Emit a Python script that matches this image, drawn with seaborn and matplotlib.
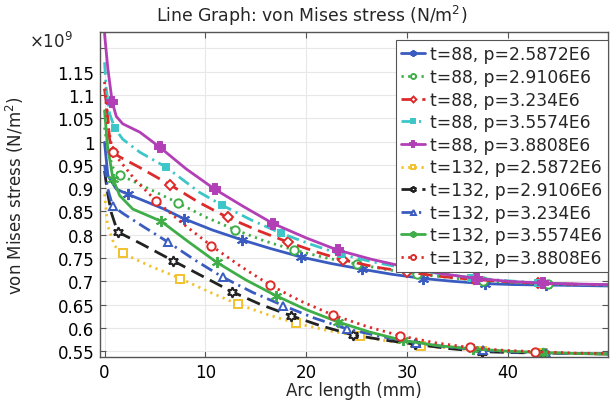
import numpy as np
import matplotlib
matplotlib.use("Agg")
import matplotlib.pyplot as plt
import seaborn as sns

# ---------------------------------------------------------------------------
# DATA  (arc length in mm, stress in 1e9 N/m^2)
# ---------------------------------------------------------------------------
labels = [
    "t=88, p=2.5872E6", "t=88, p=2.9106E6", "t=88, p=3.234E6",
    "t=88, p=3.5574E6", "t=88, p=3.8808E6",
    "t=132, p=2.5872E6", "t=132, p=2.9106E6", "t=132, p=3.234E6",
    "t=132, p=3.5574E6", "t=132, p=3.8808E6",
]

x_88_25872 = [0, 0.33, 1.16, 2.3, 4, 5.9, 7.9, 10.7, 13.6, 16.5, 19.5, 22.5, 25.5, 28.5, 31.6, 34.5, 37.7, 40.5, 43.8, 47, 50]
y_88_25872 = [0.998, 0.927, 0.898, 0.887, 0.872, 0.855, 0.834, 0.810, 0.789, 0.770, 0.752, 0.738, 0.726, 0.715, 0.706, 0.700, 0.695, 0.693, 0.692, 0.691, 0.690]

x_88_29106 = [0, 0.3, 0.8, 1.55, 3.5, 5.5, 7.3, 10, 12.9, 15.8, 18.8, 22, 25, 28, 31, 34.5, 37.5, 41, 44, 47, 50]
y_88_29106 = [1.03, 0.985, 0.945, 0.928, 0.908, 0.887, 0.868, 0.838, 0.811, 0.787, 0.767, 0.750, 0.737, 0.725, 0.716, 0.707, 0.701, 0.697, 0.694, 0.693, 0.692]

x_88_3234 = [0, 0.3, 0.5, 0.83, 1.5, 3.5, 6.5, 9.3, 12.2, 15.2, 18.2, 21, 23.6, 27, 30, 33.5, 36.6, 40, 43, 46.5, 50]
y_88_3234 = [1.113, 1.06, 1.005, 0.977, 0.967, 0.944, 0.907, 0.870, 0.837, 0.809, 0.784, 0.763, 0.746, 0.730, 0.720, 0.710, 0.704, 0.699, 0.696, 0.694, 0.692]

x_88_35574 = [0, 0.17, 0.5, 1.0, 1.8, 3.5, 6.1, 9.4, 11.6, 14.5, 17.5, 20.5, 23.4, 26.5, 29.6, 33, 36.3, 40, 43, 46.5, 50]
y_88_35574 = [1.17, 1.113, 1.06, 1.029, 1.005, 0.977, 0.945, 0.891, 0.864, 0.832, 0.803, 0.779, 0.758, 0.742, 0.729, 0.717, 0.708, 0.701, 0.697, 0.694, 0.692]

x_88_38808 = [0, 0.33, 0.76, 1.16, 1.8, 3.5, 5.46, 8.1, 10.9, 13.8, 16.7, 20, 23.1, 26.5, 30, 33.5, 36.9, 40, 43.5, 47, 50]
y_88_38808 = [1.231, 1.156, 1.085, 1.054, 1.038, 1.020, 0.988, 0.941, 0.898, 0.860, 0.824, 0.793, 0.767, 0.747, 0.730, 0.716, 0.706, 0.700, 0.696, 0.694, 0.693]

x_132_25872 = [0, 0.3, 1.0, 1.8, 4.5, 7.5, 10.3, 13.2, 16.1, 19.0, 22.2, 25.3, 28.3, 31.4, 34.5, 37.4, 40.5, 43.5, 47, 50]
y_132_25872 = [0.887, 0.82, 0.776, 0.760, 0.733, 0.706, 0.678, 0.651, 0.629, 0.610, 0.594, 0.582, 0.571, 0.562, 0.556, 0.551, 0.548, 0.546, 0.545, 0.544]

x_132_29106 = [0, 0.3, 0.66, 1.3, 3.5, 6.8, 9.7, 12.6, 15.5, 18.5, 21.5, 24.6, 27.7, 30.8, 34, 37.4, 40.5, 43.5, 47, 50]
y_132_29106 = [0.937, 0.89, 0.848, 0.806, 0.782, 0.744, 0.711, 0.678, 0.650, 0.626, 0.604, 0.585, 0.574, 0.565, 0.556, 0.549, 0.547, 0.546, 0.545, 0.544]

x_132_3234 = [0, 0.3, 0.8, 1.8, 3.8, 6.3, 9.0, 11.7, 14.7, 17.7, 20.8, 24, 27.3, 30.9, 34, 37.5, 40.5, 43.8, 47, 50]
y_132_3234 = [0.95, 0.90, 0.862, 0.846, 0.818, 0.784, 0.745, 0.709, 0.676, 0.648, 0.621, 0.598, 0.582, 0.568, 0.559, 0.552, 0.548, 0.546, 0.545, 0.544]

x_132_35574 = [0, 0.3, 0.83, 1.5, 2.8, 5.6, 8.3, 11.1, 14, 17.0, 20, 23.1, 26.3, 29.6, 33, 36.5, 40, 43.5, 47, 50]
y_132_35574 = [1.066, 0.99, 0.920, 0.884, 0.855, 0.829, 0.785, 0.741, 0.703, 0.669, 0.639, 0.613, 0.591, 0.573, 0.562, 0.555, 0.550, 0.547, 0.545, 0.544]

x_132_38808 = [0, 0.3, 0.8, 1.5, 3.1, 5.1, 7.8, 10.6, 13.5, 16.4, 19.5, 22.6, 26, 29.3, 32.8, 36.2, 39.5, 42.7, 46.5, 50]
y_132_38808 = [1.128, 1.04, 0.978, 0.959, 0.916, 0.873, 0.823, 0.776, 0.732, 0.692, 0.657, 0.628, 0.603, 0.583, 0.568, 0.558, 0.552, 0.549, 0.546, 0.545]

y_ticks = [0.55, 0.6, 0.65, 0.7, 0.75, 0.8, 0.85, 0.9, 0.95, 1.0, 1.05, 1.1, 1.15, 1.2]
x_ticks = [0, 10, 20, 30, 40]

xs = [x_88_25872, x_88_29106, x_88_3234, x_88_35574, x_88_38808,
      x_132_25872, x_132_29106, x_132_3234, x_132_35574, x_132_38808]
ys = [y_88_25872, y_88_29106, y_88_3234, y_88_35574, y_88_38808,
      y_132_25872, y_132_29106, y_132_3234, y_132_35574, y_132_38808]

# ---------------------------------------------------------------------------
# STYLE per series
# ---------------------------------------------------------------------------
BLUE, GREEN, RED, CYAN, PURPLE, YELLOW, BLACK = (
    "#3a5cc0", "#3fae49", "#dd2a2a", "#3cc6c8", "#b23fb5", "#f2c12e", "#222222")
colors = [BLUE, GREEN, RED, CYAN, PURPLE, YELLOW, BLACK, BLUE, GREEN, RED]
dash_solid = "-"
dash_dot = (0, (0.8, 1.6))
dash_long = (0, (5, 2.5))
dash_dd = (0, (4.5, 1.8, 0.8, 1.8))
styles = [dash_solid, dash_dot, dash_long, dash_dd, dash_solid,
          dash_dot, dash_long, dash_dd, dash_solid, dash_dot]
markers = [(6, 2, 0), "o", "D", "s", "P", "s", (6, 1, 0), "^", (6, 2, 0), "o"]
msizes = [8, 6, 5, 5, 7, 6, 7.5, 6, 8, 6]
filled = [True, False, False, True, True, False, False, False, True, False]
mark_idx = [[3, 6, 8, 10, 12, 14, 16, 18]] * 4 + [
    [2, 6, 8, 10, 12, 14, 16, 18],
    [3, 5, 7, 9, 11, 13, 15, 17],
    [3, 5, 7, 9, 11, 13, 15, 17],
    [2, 5, 7, 9, 11, 13, 15, 17],
    [2, 5, 7, 9, 11, 13, 15, 17],
    [2, 5, 7, 9, 11, 13, 15, 17],
]

sns.set_style("whitegrid")
plt.rcParams["font.family"] = ["DejaVu Sans"]

fig = plt.figure(figsize=(6.12, 4.02), dpi=100)
ax = fig.add_axes([0.1634, 0.1095, 0.8301, 0.8084])

for i in range(len(labels)):
    sns.lineplot(
        x=xs[i], y=ys[i], ax=ax, color=colors[i], linestyle=styles[i],
        linewidth=2, marker=markers[i], markersize=msizes[i],
        markerfacecolor=colors[i] if filled[i] else "white",
        markeredgecolor=colors[i], markeredgewidth=1.4,
        markevery=mark_idx[i], label=labels[i], sort=False,
    )

ax.set_xlim(-0.45, 49.9)
ax.set_ylim(0.5376, 1.235)
ax.set_xticks(x_ticks)
ax.set_yticks(y_ticks)
ax.set_yticklabels([("%g" % v) if v < 1.19 else "" for v in y_ticks])
ax.tick_params(direction="in", length=4, width=0.8, colors="#555555",
               labelcolor="black", labelsize=12, top=True, right=True,
               left=True, bottom=True, pad=4)
ax.grid(True, color="#e8e8e8", linewidth=0.8)
for s in ax.spines.values():
    s.set_color("#555555")
    s.set_linewidth(1.0)

fig.suptitle("Line Graph: von Mises stress (N/m$^2$)", fontsize=12.4,
             x=0.51, y=0.99, va="top")
ax.set_xlabel("Arc length (mm)", fontsize=12, labelpad=0)
ax.set_ylabel("von Mises stress (N/m$^2$)", fontsize=12)
ax.yaxis.set_label_coords(-0.145, 0.5)
fig.text(0.047, 0.895, r"$\times10^9$", fontsize=12, ha="left", va="center")

leg = ax.legend(loc="upper right", bbox_to_anchor=(1.006, 0.985), fontsize=12.3,
                frameon=True, fancybox=False, edgecolor="#555555", framealpha=1,
                handlelength=1.4, handletextpad=0.3, labelspacing=0.27,
                borderpad=0.3, borderaxespad=0.2, numpoints=1, markerscale=0.6)
leg.get_frame().set_linewidth(0.8)

fig.savefig("out.png", dpi=100)
